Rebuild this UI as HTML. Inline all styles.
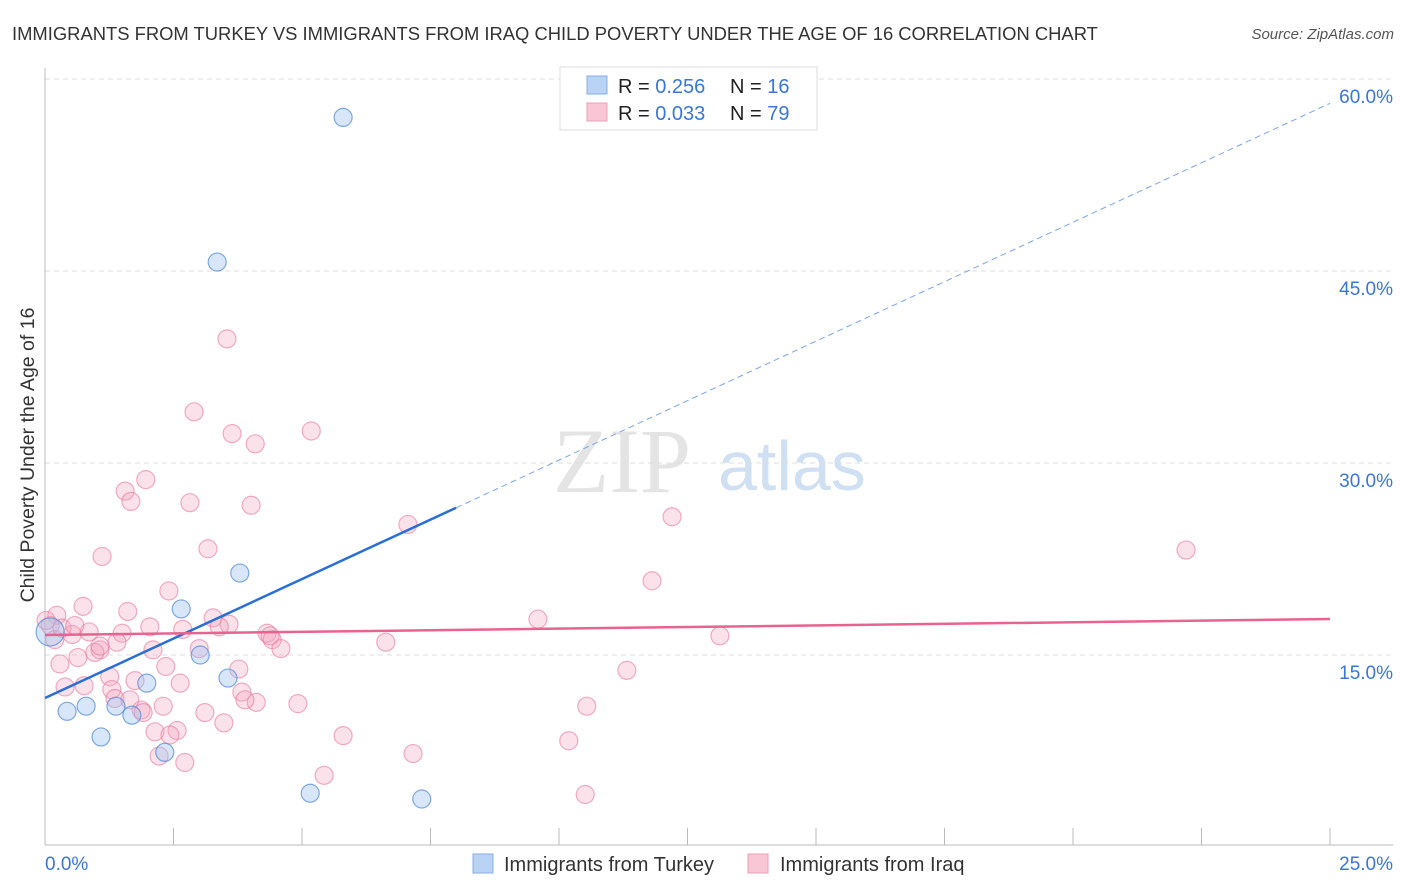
<!DOCTYPE html>
<html><head><meta charset="utf-8"><style>
body{margin:0;background:#fff;font-family:"Liberation Sans",sans-serif;}
</style></head><body>
<svg width="1406" height="892" style="display:block">
<text x="12" y="40" font-size="18.4" fill="#333">IMMIGRANTS FROM TURKEY VS IMMIGRANTS FROM IRAQ CHILD POVERTY UNDER THE AGE OF 16 CORRELATION CHART</text>
<text x="1394" y="39" font-size="15" fill="#555" font-style="italic" text-anchor="end">Source: ZipAtlas.com</text>
<g>
<text x="553" y="492" font-size="92" font-family="Liberation Serif,serif" fill="#e4e4e4">ZIP</text>
<text x="718" y="490" font-size="70" fill="#cfe0f3">atlas</text>
</g>
<g id="grid"></g><g id="axes"></g><g id="pts"></g><g id="lines"></g>
<g>
<rect x="560" y="67" width="257" height="63" fill="#fff" stroke="#ddd"/>
<rect x="587" y="76" width="20" height="18" fill="#b9d3f5" stroke="#88aee6"/>
<rect x="587" y="103" width="20" height="18" fill="#f9c6d6" stroke="#ee9fb8"/>
<text x="618" y="93" font-size="20" fill="#222">R = <tspan fill="#3a76d6">0.256</tspan><tspan x="730">N = </tspan><tspan fill="#3a76d6">16</tspan></text>
<text x="618" y="120" font-size="20" fill="#222">R = <tspan fill="#3a76d6">0.033</tspan><tspan x="730">N = </tspan><tspan fill="#3a76d6">79</tspan></text>
</g>
<g>
<rect x="473" y="854" width="20" height="19" fill="#b9d3f5" stroke="#88aee6"/>
<text x="504" y="871" font-size="20" fill="#333">Immigrants from Turkey</text>
<rect x="748" y="854" width="20" height="19" fill="#f9c6d6" stroke="#ee9fb8"/>
<text x="780" y="871" font-size="20" fill="#333">Immigrants from Iraq</text>
</g>
<text transform="translate(34,455) rotate(-90)" font-size="19.5" fill="#333" text-anchor="middle">Child Poverty Under the Age of 16</text>
</svg>
<script>
const yTicks=[15,30,45,60];
const yTickLabels=["15.0%","30.0%","45.0%","60.0%"];
const xTickLabels=["0.0%","25.0%"];
const turkeyX=[5.80,3.35,3.79,2.65,3.02,3.56,1.98,0.43,0.80,1.38,1.69,1.09,2.33,5.16,7.33,0.10];
const turkeyY=[57.0,45.7,21.4,18.6,15.0,13.2,12.8,10.6,11.0,11.0,10.3,8.6,7.4,4.2,3.75,16.8];
const iraqX=[3.54,2.90,3.64,4.09,5.18,1.96,1.56,1.67,2.82,4.01,7.06,12.20,1.11,3.17,11.81,22.20,2.41,0.74,1.61,9.59,3.27,3.58,3.39,2.04,2.68,1.50,4.32,4.42,6.63,13.13,0.23,0.10,0.53,0.86,1.07,1.40,2.10,3.00,4.59,0.64,0.29,0.97,2.35,3.77,11.32,1.26,2.63,1.75,0.39,0.76,1.30,3.83,4.11,4.92,2.30,1.87,3.11,10.54,3.48,2.14,2.57,5.80,10.19,7.16,2.22,2.72,5.43,10.51,0.02,0.19,1.36,1.91,3.89,4.38,1.07,0.33,0.58,2.43,1.65];
const iraqY=[39.7,34.0,32.3,31.5,32.5,28.7,27.8,27.0,26.9,26.7,25.2,25.8,22.7,23.3,20.8,23.2,20.0,18.8,18.4,17.8,17.9,17.4,17.2,17.2,17.0,16.7,16.7,16.2,16.0,16.5,18.1,17.3,16.6,16.8,15.4,16.0,15.4,15.5,15.5,14.8,14.3,15.2,14.1,13.9,13.8,13.3,12.8,13.0,12.5,12.6,12.3,12.1,11.3,11.2,11.0,10.7,10.5,11.0,9.7,9.0,9.1,8.7,8.3,7.3,7.1,6.6,5.6,4.1,17.7,16.2,11.6,10.5,11.5,16.5,15.7,17.1,17.3,8.75,11.5];
const turkeyTrend=[11.64,58.1];
const turkeySolidEnd=8.0;
const iraqTrend=[16.56,17.81];
const NS="http://www.w3.org/2000/svg";
const X=v=>45+v/25*1285, Y=v=>847-v*12.8;
function mk(t,a,p){const e=document.createElementNS(NS,t);for(const k in a)e.setAttribute(k,a[k]);p.appendChild(e);return e;}
const grid=document.getElementById('grid'),axes=document.getElementById('axes'),pts=document.getElementById('pts'),lines=document.getElementById('lines');
yTicks.forEach((t,i)=>{
 const l=mk('line',{x1:45,x2:1393,y1:Y(t),y2:Y(t),stroke:'#ddd','stroke-dasharray':'5,4'},grid);
 
 
 const tx=mk('text',{x:1393,y:Y(t)+24,'font-size':19,fill:'#3a76d6','text-anchor':'end'},grid);
 tx.textContent=yTickLabels[i];
 
 
});
const ax=mk('line',{x1:45,x2:1393,y1:845,y2:845,stroke:'#bbb'},axes);


const ay=mk('line',{x1:45,x2:45,y1:68,y2:845,stroke:'#bbb'},axes);


for(let i=0;i<=10;i++){const v=i*2.5;const tk=mk('line',{x1:X(v),x2:X(v),y1:828,y2:845,stroke:'#bbb'},axes);
 
 }
[[0,'start',45],[25,'end',1393]].forEach((d,i)=>{const t=mk('text',{x:d[2],y:870,'font-size':19,fill:'#3a76d6','text-anchor':d[1]},axes);t.textContent=xTickLabels[i];
 
 });
iraqX.forEach((x,i)=>{const c=mk('circle',{cx:X(x),cy:Y(iraqY[i]),r:9,fill:'rgba(244,165,190,0.32)',stroke:'rgba(232,120,155,0.6)','stroke-width':1.2},pts);
 
 });
turkeyX.forEach((x,i)=>{const c=mk('circle',{cx:X(x),cy:Y(turkeyY[i]),r:i==15?14:9,fill:'rgba(160,196,240,0.42)',stroke:'rgba(80,135,215,0.7)','stroke-width':1.2},pts);
 
 });
const ty=x=>turkeyTrend[0]+(turkeyTrend[1]-turkeyTrend[0])*x/25;
const l1=mk('line',{x1:X(0),y1:Y(ty(0)),x2:X(turkeySolidEnd),y2:Y(ty(turkeySolidEnd)),stroke:'#2a6fd6','stroke-width':2.5},lines);


const l2=mk('line',{x1:X(turkeySolidEnd),y1:Y(ty(turkeySolidEnd)),x2:X(25),y2:Y(ty(25)),stroke:'#7aa6e6','stroke-width':1,'stroke-dasharray':'6,4'},lines);


const l3=mk('line',{x1:X(0),y1:Y(iraqTrend[0]),x2:X(25),y2:Y(iraqTrend[1]),stroke:'#e8638f','stroke-width':2.5},lines);


</script>
</body></html>
